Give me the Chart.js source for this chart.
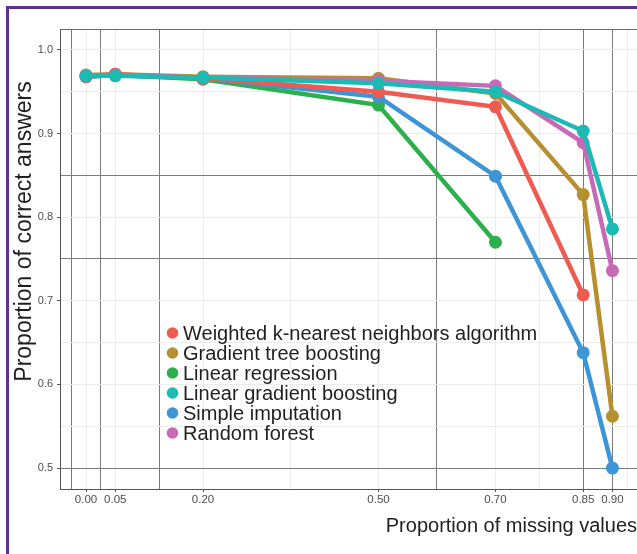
<!DOCTYPE html>
<html>
<head>
<meta charset="utf-8">
<script src="https://cdn.jsdelivr.net/npm/chart.js@4.4.1/dist/chart.umd.min.js"></script>
<style>
  html, body { margin: 0; padding: 0; background: #fff; }
  #wrap { position: relative; width: 637px; height: 554px; overflow: hidden; }
  #frame { position: absolute; left: 6px; top: 6px; width: 700px; height: 700px;
           border-left: 3px solid #5b3192; border-top: 3px solid #5b3192; }
  #chart { position: absolute; left: 0; top: 0; }
</style>
</head>
<body>
<div id="wrap">
  <div id="frame"></div>
  <canvas id="chart" width="637" height="554"></canvas>
</div>
<script>
// proportion of missing values
var xValues = [0, 0.05, 0.2, 0.5, 0.7, 0.85, 0.9];
var xTickLabels = ['0.00', '0.05', '0.20', '0.50', '0.70', '0.85', '0.90'];
var yTickValues = [0.5, 0.6, 0.7, 0.8, 0.9, 1.0];
var yTickLabels = ['0.5', '0.6', '0.7', '0.8', '0.9', '1.0'];

// proportion of correct answers per method
var knnValues    = [0.968, 0.971, 0.966, 0.950, 0.932, 0.707, null];
var gtbValues    = [0.970, 0.971, 0.968, 0.966, 0.948, 0.827, 0.562];
var linRegValues = [0.968, 0.970, 0.965, 0.934, 0.770, null, null];
var lgbValues    = [0.969, 0.969, 0.967, 0.960, 0.950, 0.903, 0.786];
var simpleValues = [0.968, 0.970, 0.966, 0.944, 0.849, 0.638, 0.500];
var rfValues     = [0.969, 0.970, 0.967, 0.963, 0.957, 0.889, 0.736];

var seriesNames = ['Weighted k-nearest neighbors algorithm', 'Gradient tree boosting',
  'Linear regression', 'Linear gradient boosting', 'Simple imputation', 'Random forest'];

// extra grid lines (the picture has some darker ones)
var xDarkLines = [-0.025, 0.025, 0.125, 0.6, 0.85, 0.9];
var xLightLines = [0.35, 0.775, 0.925];
var yDarkLines = [0.5, 0.75, 0.85];
var yLightLines = [0.55, 0.65, 0.95];

var colors = ['#ef5a51', '#b68f2e', '#2bb04b', '#1bbab4', '#3d95d6', '#c66ab7'];
var drawOrder = [2, 3, 5, 0, 4, 1];
var allSeries = [knnValues, gtbValues, linRegValues, lgbValues, simpleValues, rfValues];

var FONT = '"Liberation Sans", Arial, Helvetica, sans-serif';
Chart.defaults.font.family = FONT;

function toPoints(vals) {
  var pts = [];
  vals.forEach(function (v, i) {
    if (v !== null) pts.push({ x: xValues[i], y: v });
  });
  return pts;
}

var datasets = allSeries.map(function (vals, i) {
  return {
    label: seriesNames[i],
    data: toPoints(vals),
    borderColor: colors[i],
    backgroundColor: colors[i],
    pointBackgroundColor: colors[i],
    pointBorderWidth: 0,
    pointRadius: 6.5,
    borderWidth: 4.5,
    tension: 0,
    order: drawOrder[i]
  };
});

var Y_MIN = 0.475, Y_MAX = 1.025;

var legendInside = {
  id: 'legendInside',
  afterDatasetsDraw: function (chart) {
    var c = chart.ctx;
    c.save();
    c.font = '20px ' + FONT;
    c.textBaseline = 'alphabetic';
    c.textAlign = 'left';
    chart.data.datasets.forEach(function (ds, i) {
      var base = 339.5 + i * 20;
      c.fillStyle = ds.borderColor;
      c.beginPath();
      c.arc(172.5, base - 6.5, 5.8, 0, Math.PI * 2);
      c.fill();
      c.fillStyle = '#1f1f1f';
      c.fillText(ds.label, 183, base);
    });
    // y axis title
    c.translate(31, 231.5);
    c.rotate(-Math.PI / 2);
    c.textAlign = 'center';
    c.font = '23px ' + FONT;
    c.fillText('Proportion of correct answers', 0, 0);
    c.restore();
  }
};

new Chart(document.getElementById('chart'), {
  type: 'line',
  data: { datasets: datasets },
  options: {
    responsive: false,
    animation: false,
    layout: { autoPadding: false, padding: { top: 29, left: 0, right: 0, bottom: 0 } },
    plugins: { legend: { display: false }, tooltip: { enabled: false } },
    scales: {
      x: {
        type: 'linear',
        min: -0.0445,
        max: 0.942,
        afterBuildTicks: function (scale) {
          var vals = xValues.concat(xDarkLines, xLightLines);
          vals = vals.filter(function (v, i) { return vals.indexOf(v) === i; });
          vals.sort(function (a, b) { return a - b; });
          scale.ticks = vals.map(function (v) { return { value: v }; });
        },
        afterFit: function (scale) {
          scale.height = 65;
          scale.paddingLeft = 0;
          scale.paddingRight = 0;
        },
        ticks: {
          autoSkip: false,
          maxRotation: 0,
          padding: 1,
          color: '#4d4d4d',
          font: { size: 11.5 },
          callback: function (v) {
            var i = xValues.indexOf(v);
            return i >= 0 ? xTickLabels[i] : '';
          }
        },
        grid: {
          lineWidth: 1,
          tickLength: 3,
          color: function (c) {
            return xDarkLines.indexOf(c.tick.value) >= 0 ? '#7a7a7a' : '#ececec';
          },
          tickColor: function (c) {
            return xValues.indexOf(c.tick.value) >= 0 ? '#555' : 'rgba(0,0,0,0)';
          }
        },
        border: { color: '#555', width: 1 },
        title: {
          display: true,
          text: 'Proportion of missing values',
          align: 'end',
          color: '#1f1f1f',
          font: { size: 20 },
          padding: { top: 0, bottom: 16 }
        }
      },
      y: {
        type: 'linear',
        min: Y_MIN,
        max: Y_MAX,
        afterBuildTicks: function (scale) {
          var vals = yTickValues.concat(yDarkLines, yLightLines, [Y_MAX]);
          vals = vals.filter(function (v, i) { return vals.indexOf(v) === i; });
          vals.sort(function (a, b) { return a - b; });
          scale.ticks = vals.map(function (v) { return { value: v }; });
        },
        afterFit: function (scale) { scale.width = 60; },
        ticks: {
          autoSkip: false,
          padding: 4,
          color: '#4d4d4d',
          font: { size: 11 },
          callback: function (v) {
            var i = yTickValues.indexOf(v);
            return i >= 0 ? yTickLabels[i] : '';
          }
        },
        grid: {
          lineWidth: 1,
          tickLength: 3,
          color: function (c) {
            if (c.tick.value === Y_MAX) return '#6a6a6a';
            return yDarkLines.indexOf(c.tick.value) >= 0 ? '#7a7a7a' : '#ececec';
          },
          tickColor: function (c) {
            return yTickValues.indexOf(c.tick.value) >= 0 ? '#555' : 'rgba(0,0,0,0)';
          }
        },
        border: { color: '#555', width: 1 },
        title: { display: false }
      }
    }
  },
  plugins: [legendInside]
});
</script>
</body>
</html>
